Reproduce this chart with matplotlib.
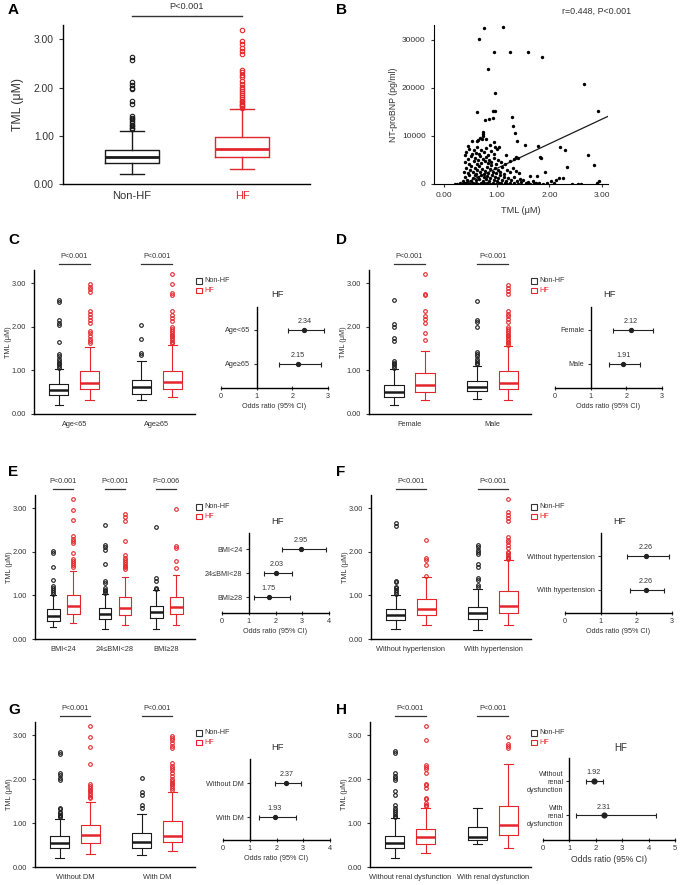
import numpy as np
import matplotlib
matplotlib.use("Agg")
import matplotlib.pyplot as plt
from matplotlib.patches import Rectangle

plt.rcParams['font.family'] = ['Liberation Sans', 'DejaVu Sans']

W, H = 680, 885
BLACK = '#1a1a1a'
RED = '#e3262b'
GREY = '#333333'

# ---------------- data ----------------
# box stats: [whislo, q1, median, q3, whishi]
A_groups = ['Non-HF', 'HF']
A_nonhf = [0.21, 0.43, 0.56, 0.71, 1.10]
A_hf = [0.31, 0.56, 0.73, 0.97, 1.56]
A_nonhf_out = [1.14, 1.17, 1.20, 1.23, 1.26, 1.30, 1.34, 1.38, 1.42, 1.67, 1.72, 1.97, 2.00, 2.05, 2.12, 2.58, 2.64]
A_hf_out = [1.58, 1.61, 1.64, 1.67, 1.70, 1.73, 1.76, 1.80, 1.84, 1.88, 1.92, 1.97, 2.02, 2.08, 2.13,
            2.22, 2.27, 2.32, 2.36, 2.70, 2.76, 2.83, 2.90, 2.96, 3.20]
A_p = 'P<0.001'

# NT-proBNP vs TML scatter
B_tml = [0.75, 1.11, 0.67, 0.95, 1.25, 1.59, 1.85, 0.84, 0.97, 2.65, 2.92, 0.62, 0.92, 0.96, 0.78, 0.86,
         0.93, 1.29, 1.30, 1.35, 1.38, 1.54, 1.79, 1.82, 1.84, 2.20, 2.30, 2.74, 2.84, 2.33, 2.93, 1.92,
         1.37, 1.41, 1.18, 1.05, 0.95, 0.97, 0.73, 0.73, 0.54, 0.46, 0.39, 0.65, 0.74, 0.72, 0.62, 0.68,
         0.80, 0.88,
         0.20, 0.25, 0.30, 0.34, 0.38, 0.42, 0.46, 0.50, 0.55, 0.60, 0.64, 0.70, 0.76, 0.82, 0.88, 0.93,
         0.99, 1.04, 1.09, 1.15, 1.20, 1.26, 1.33, 1.40, 1.46, 1.55, 1.60, 1.64, 1.70, 1.74, 1.80, 1.88,
         1.95, 2.02, 2.08, 2.18, 2.25, 2.43, 2.55, 2.60, 2.90, 1.63, 1.76, 1.68, 2.12,
         0.36, 0.40, 0.44, 0.48, 0.52, 0.55, 0.58, 0.61, 0.64, 0.67, 0.70, 0.73, 0.76, 0.79, 0.82, 0.85,
         0.88, 0.91, 0.94, 0.97, 1.00, 1.03, 1.06, 1.10, 1.14, 1.18, 1.22, 1.27, 1.32, 1.38, 1.44, 1.50,
         0.38, 0.42, 0.45, 0.49, 0.52, 0.55, 0.58, 0.60, 0.63, 0.66, 0.69, 0.72, 0.75, 0.78, 0.81, 0.84,
         0.87, 0.90, 0.93, 0.96, 0.99, 1.02, 1.06, 1.10, 1.14, 1.20, 1.25, 1.30, 1.36, 1.42,
         0.40, 0.45, 0.48, 0.52, 0.56, 0.59, 0.62, 0.65, 0.68, 0.71, 0.74, 0.77, 0.80, 0.83, 0.86, 0.90,
         0.94, 0.98, 1.02, 1.08, 1.15, 1.25, 1.33,
         0.42, 0.48, 0.53, 0.56, 0.60, 0.63, 0.66, 0.70, 0.75, 0.79, 0.84, 0.89, 0.95, 1.00]
B_bnp = [32400, 32600, 30100, 27500, 27400, 27400, 26400, 23900, 19000, 20800, 15200, 14900, 15100, 15300,
         13400, 13600, 13800, 14000, 12000, 10700, 8900, 8200, 8000, 5700, 5400, 7600, 7000, 6100, 4000,
         3500, 700, 2400, 5600, 5400, 6100, 7800, 8700, 7800, 10400, 9900, 8900, 8000, 6100, 9200, 10800,
         9400, 9000, 9500, 9300, 8200,
         100, 80, 150, 60, 200, 120, 300, 90, 250, 150, 80, 200, 120, 260, 90, 180, 60, 220, 130, 300,
         80, 150, 250, 100, 400, 150, 500, 80, 300, 120, 200, 100, 250, 550, 150, 1200, 1250, 80, 60,
         100, 200, 1600, 1700, 600, 800,
         700, 1500, 900, 1800, 600, 1300, 1900, 800, 1500, 1100, 1800, 700, 1400, 1000, 1700, 600, 1300,
         1900, 900, 1500, 700, 1200, 1800, 900, 1500, 600, 1200, 800, 1500, 700, 1100, 900,
         2600, 3400, 2200, 3000, 3800, 2500, 3300, 2100, 2900, 3700, 2400, 3200, 2000, 2800, 3600, 2300,
         3100, 3900, 2600, 3400, 2200, 3000, 2500, 3500, 2100, 2900, 2400, 3300, 2700, 2200,
         4500, 5300, 4200, 5800, 4700, 5500, 4100, 5000, 5900, 4400, 5200, 4800, 5600, 4300, 5100, 4600,
         5400, 4200, 5000, 4500, 4100, 4700, 5200,
         6700, 7300, 6300, 7000, 6500, 7600, 6200, 7100, 6600, 7400, 6100, 6900, 6300, 7200]
B_fit = [5140, -1900]  # slope, intercept of the regression line
B_text = 'r=0.448, P<0.001'

C_groups = ['Age<65', 'Age\u226565']
C_nonhf = [[0.21, 0.43, 0.55, 0.68, 1.03], [0.32, 0.46, 0.61, 0.78, 1.22]]
C_hf = [[0.32, 0.57, 0.72, 0.98, 1.53], [0.38, 0.57, 0.74, 0.98, 1.57]]
C_nonhf_out = [[1.06, 1.10, 1.14, 1.18, 1.22, 1.27, 1.32, 1.37, 1.65, 2.03, 2.09, 2.15, 2.56, 2.61],
               [1.36, 1.39, 1.72, 2.03]]
C_hf_out = [[1.62, 1.67, 1.72, 1.78, 1.85, 1.90, 2.09, 2.16, 2.22, 2.30, 2.36, 2.80, 2.86, 2.92, 2.97],
            [1.62, 1.66, 1.70, 1.74, 1.78, 1.82, 1.86, 1.90, 1.95, 2.00, 2.12, 2.20, 2.28, 2.35, 2.72,
             2.78, 2.97, 3.20]]
C_p = ['P<0.001', 'P<0.001']
C_or = [2.34, 2.15]
C_lo = [1.88, 1.62]
C_hi = [2.88, 2.79]

D_groups = ['Female', 'Male']
D_nonhf = [[0.21, 0.40, 0.51, 0.67, 1.03], [0.35, 0.52, 0.62, 0.76, 1.09]]
D_hf = [[0.32, 0.51, 0.67, 0.95, 1.45], [0.32, 0.58, 0.72, 0.99, 1.55]]
D_nonhf_out = [[1.06, 1.10, 1.14, 1.18, 1.22, 1.68, 1.75, 2.00, 2.06, 2.62],
               [1.14, 1.18, 1.22, 1.27, 1.32, 1.37, 1.42, 2.00, 2.10, 2.15, 2.58]]
D_hf_out = [[1.70, 1.85, 2.09, 2.18, 2.25, 2.35, 2.72, 2.76, 3.20],
            [1.58, 1.62, 1.66, 1.70, 1.74, 1.78, 1.82, 1.86, 1.90, 1.95, 2.00, 2.10, 2.18, 2.25, 2.30,
             2.35, 2.75, 2.82, 2.88, 2.95]]
D_p = ['P<0.001', 'P<0.001']
D_or = [2.12, 1.91]
D_lo = [1.62, 1.52]
D_hi = [2.75, 2.37]

E_groups = ['BMI<24', '24\u2264BMI<28', 'BMI\u226528']
E_nonhf = [[0.28, 0.42, 0.52, 0.68, 1.00], [0.23, 0.45, 0.57, 0.72, 1.02], [0.22, 0.48, 0.62, 0.75, 1.12]]
E_hf = [[0.37, 0.58, 0.75, 1.00, 1.56], [0.31, 0.55, 0.71, 0.96, 1.42], [0.32, 0.58, 0.73, 0.96, 1.47]]
E_nonhf_out = [[1.04, 1.08, 1.12, 1.17, 1.22, 1.36, 1.64, 1.97, 2.01],
               [1.05, 1.09, 1.13, 1.18, 1.28, 1.34, 1.71, 2.05, 2.10, 2.15, 2.62],
               [1.14, 1.18, 1.34, 1.40, 2.57]]
E_hf_out = [[1.66, 1.70, 1.74, 1.78, 1.84, 1.97, 2.20, 2.25, 2.30, 2.35, 2.72, 2.96, 3.20],
            [1.60, 1.64, 1.68, 1.72, 1.76, 1.80, 1.86, 1.93, 2.25, 2.70, 2.79, 2.87],
            [1.62, 1.78, 2.08, 2.12, 2.97]]
E_p = ['P<0.001', 'P<0.001', 'P=0.006']
E_or = [2.95, 2.03, 1.75]
E_lo = [2.25, 1.58, 1.20]
E_hi = [3.88, 2.60, 2.55]

F_groups = ['Without hypertension', 'With hypertension']
F_nonhf = [[0.23, 0.43, 0.54, 0.68, 1.00], [0.20, 0.45, 0.60, 0.74, 1.15]]
F_hf = [[0.32, 0.54, 0.69, 0.91, 1.43], [0.31, 0.60, 0.75, 1.10, 1.81]]
F_nonhf_out = [[1.04, 1.08, 1.12, 1.16, 1.20, 1.30, 1.34, 2.60, 2.65],
               [1.20, 1.23, 1.36, 1.40, 1.65, 1.72, 1.95, 2.00, 2.05, 2.10, 2.15]]
F_hf_out = [[1.45, 1.70, 1.80, 1.86, 2.28],
            [1.83, 1.86, 1.89, 1.92, 1.96, 2.00, 2.08, 2.15, 2.22, 2.28, 2.34, 2.70, 2.78, 2.85, 2.92, 3.20]]
F_p = ['P<0.001', 'P<0.001']
F_or = [2.26, 2.26]
F_lo = [1.73, 1.82]
F_hi = [2.92, 2.78]

G_groups = ['Without DM', 'With DM']
G_nonhf = [[0.20, 0.43, 0.55, 0.71, 1.10], [0.28, 0.43, 0.58, 0.77, 1.21]]
G_hf = [[0.29, 0.55, 0.73, 0.95, 1.47], [0.36, 0.58, 0.70, 1.05, 1.71]]
G_nonhf_out = [[1.13, 1.16, 1.19, 1.22, 1.26, 1.31, 1.35, 1.98, 2.03, 2.09, 2.15, 2.58, 2.62],
               [1.35, 1.40, 1.64, 1.70, 2.02]]
G_hf_out = [[1.56, 1.60, 1.64, 1.68, 1.72, 1.76, 1.80, 1.84, 1.88, 2.34, 2.73, 2.97, 3.20],
            [1.76, 1.80, 1.84, 1.88, 1.92, 1.96, 2.00, 2.08, 2.14, 2.20, 2.26, 2.31, 2.36, 2.70, 2.76,
             2.82, 2.88, 2.94, 2.98]]
G_p = ['P<0.001', 'P<0.001']
G_or = [2.37, 1.93]
G_lo = [1.94, 1.35]
G_hi = [2.90, 2.73]

H_groups = ['Without renal dysfunction', 'With renal dysfunction']
H_rows = ['Without\nrenal\ndysfunction', 'With\nrenal\ndysfunction']
H_nonhf = [[0.21, 0.43, 0.55, 0.71, 1.11], [0.52, 0.62, 0.68, 0.92, 1.35]]
H_hf = [[0.31, 0.53, 0.68, 0.87, 1.35], [0.43, 0.72, 0.95, 1.38, 2.35]]
H_nonhf_out = [[1.13, 1.17, 1.21, 1.25, 1.30, 1.35, 1.40, 1.65, 1.72, 1.97, 2.02, 2.08, 2.14, 2.59, 2.63], []]
H_hf_out = [[1.38, 1.42, 1.46, 1.54, 1.58, 1.80, 1.86, 1.90, 2.15, 2.22, 2.28, 2.32, 2.88, 3.20],
            [2.70, 2.75, 2.80, 2.97]]
H_p = ['P<0.001', 'P<0.001']
H_or = [1.92, 2.31]
H_lo = [1.62, 1.25]
H_hi = [2.26, 4.28]

# ---------------- helpers ----------------
fig = plt.figure(figsize=(W / 100, H / 100), dpi=100)


def px_axes(x0, y0, x1, y1):
    return fig.add_axes([x0 / W, 1 - y1 / H, (x1 - x0) / W, (y1 - y0) / H])


def ftext(x, y, s, **kw):
    kw.setdefault('va', 'center')
    fig.text(x / W, 1 - y / H, s, **kw)


def to_stats(vals, outs):
    return dict(whislo=vals[0], q1=vals[1], med=vals[2], q3=vals[3], whishi=vals[4], fliers=np.array(outs))


def draw_boxes(ax, stats, pos, width, color, lw, mlw, ms):
    ax.bxp(stats, positions=pos, widths=width, capwidths=width * 0.45, manage_ticks=False,
           boxprops=dict(color=color, linewidth=lw),
           whiskerprops=dict(color=color, linewidth=lw),
           capprops=dict(color=color, linewidth=lw),
           medianprops=dict(color=color, linewidth=mlw),
           flierprops=dict(marker='o', markerfacecolor='none', markeredgecolor=color,
                           markersize=ms, markeredgewidth=0.8))


def tml_axis(ax, fs, pad):
    ax.set_ylim(0, 3.3)
    ax.set_yticks([0, 1, 2, 3], ['%.2f' % v for v in [0, 1, 2, 3]])
    for s in ['top', 'right']:
        ax.spines[s].set_visible(False)
    for s in ['left', 'bottom']:
        ax.spines[s].set_linewidth(1.0)
    ax.tick_params(axis='y', length=2.5, width=0.8, labelsize=fs, colors=GREY)
    ax.tick_params(axis='x', length=0, pad=pad, labelsize=fs, colors=GREY)


def box_panel(rect, groups, nonhf, hf, nonhf_out, hf_out, pvals, legend_xy):
    ax = px_axes(*rect)
    n = len(groups)
    if n == 2:
        centers, off, bw = [0.25, 0.763], 0.096, 0.118
    else:
        centers, off, bw = [0.177, 0.5, 0.82], 0.0625, 0.08
    draw_boxes(ax, [to_stats(v, o) for v, o in zip(nonhf, nonhf_out)],
               [c - off for c in centers], bw, BLACK, 0.8, 1.8, 2.6)
    draw_boxes(ax, [to_stats(v, o) for v, o in zip(hf, hf_out)],
               [c + off for c in centers], bw, RED, 0.8, 1.8, 2.6)
    ax.set_xlim(0, 1)
    tml_axis(ax, 5.3, 5)
    ax.set_xticks(centers, groups)
    ax.set_ylabel('TML (\u03bcM)', fontsize=5.2, color=GREY)
    ax.yaxis.set_label_coords(-22 / (rect[2] - rect[0]), 0.5)
    for c, p in zip(centers, pvals):
        ax.plot([c - off, c + off], [3.43, 3.43], color=GREY, lw=0.9, clip_on=False)
        ax.text(c, 3.61, p, ha='center', va='center', fontsize=5.2, color=GREY)
    lx, ly = legend_xy
    for k, (lab, col) in enumerate([('Non-HF', GREY), ('HF', RED)]):
        yy = ly + k * 9.5
        fig.patches.append(Rectangle(((lx - 2.8) / W, 1 - (yy + 2.8) / H), 5.6 / W, 5.6 / H,
                                     transform=fig.transFigure, fill=False, edgecolor=col, lw=0.8))
        ftext(lx + 5, yy, lab, color=col, fontsize=5.2, ha='left')
    return ax


def forest_panel(rect, labels, orv, lo, hi, xmax, rows, title_xy, big=False):
    ax = px_axes(*rect)
    ax.set_xlim(0, xmax)
    ax.set_ylim(0, 1)
    for s in ['top', 'right']:
        ax.spines[s].set_visible(False)
    ax.spines['left'].set_position(('data', 1))
    ax.spines['left'].set_linewidth(1.0)
    ax.spines['bottom'].set_linewidth(1.0)
    ax.errorbar(orv, rows, xerr=[np.subtract(orv, lo), np.subtract(hi, orv)], fmt='o', color='#222222',
                ms=3.4 if big else 2.8, capsize=1.8, elinewidth=0.8, capthick=0.8)
    for v, r in zip(orv, rows):
        ax.annotate('%.2f' % v, (v, r), xytext=(0, 3.5), textcoords='offset points',
                    ha='center', va='bottom', fontsize=5.2, color=GREY)
    ax.set_yticks(rows, labels)
    ax.set_xticks(range(xmax + 1))
    ax.tick_params(axis='y', length=2.5, width=0.8, labelsize=5.2, colors=GREY, pad=2)
    ax.tick_params(axis='x', direction='inout', length=3.5, width=0.8, labelsize=5.5 if big else 5.2,
                   colors=GREY, pad=1.5)
    ax.set_xlabel('Odds ratio (95% CI)', fontsize=6.2 if big else 5.2, labelpad=2.5, color=GREY)
    ftext(title_xy[0], title_xy[1], 'HF', fontsize=7 if big else 6.8, ha='center', color=GREY)
    return ax


# ---------------- A ----------------
axA = px_axes(63, 25, 310, 184)
draw_boxes(axA, [to_stats(A_nonhf, A_nonhf_out)], [0.279], 0.22, BLACK, 1.0, 2.0, 3.2)
draw_boxes(axA, [to_stats(A_hf, A_hf_out)], [0.725], 0.22, RED, 1.0, 2.0, 3.2)
axA.set_xlim(0, 1)
tml_axis(axA, 7.4, 5)
axA.tick_params(axis='y', length=3)
axA.set_xticks([0.279, 0.725], A_groups, fontsize=8)
axA.get_xticklabels()[1].set_color(RED)
axA.set_ylabel('TML (\u03bcM)', fontsize=8.8, color=GREY)
axA.yaxis.set_label_coords(-39 / 247, 0.5)
axA.plot([0.279, 0.725], [3.49, 3.49], color=GREY, lw=1.0, clip_on=False)
axA.text(0.502, 3.675, A_p, ha='center', va='center', fontsize=6.6, color=GREY)

# ---------------- B ----------------
axB = px_axes(434, 25, 608, 184)
axB.scatter(B_tml, B_bnp, s=6, color='black', linewidths=0, zorder=3)
fx = np.array([-B_fit[1] / B_fit[0], 3.11])
axB.plot(fx, B_fit[0] * fx + B_fit[1], color=BLACK, lw=0.9)
axB.set_xlim(-0.19, 3.11)
axB.set_ylim(0, 33100)
axB.set_xticks([0, 1, 2, 3], ['%.2f' % v for v in [0, 1, 2, 3]])
axB.set_yticks([0, 10000, 20000, 30000])
for s in ['top', 'right']:
    axB.spines[s].set_visible(False)
axB.tick_params(length=2.5, width=0.8, labelsize=6, colors=GREY)
axB.set_xlabel('TML (\u03bcM)', fontsize=6.6, labelpad=5, color=GREY)
axB.set_ylabel('NT-proBNP (pg/ml)', fontsize=6.3, labelpad=3, color=GREY)
ftext(597, 11, B_text, fontsize=6.4, ha='center', color=GREY)

# ---------------- C - H ----------------
box_panel((34, 270, 195, 414), C_groups, C_nonhf, C_hf, C_nonhf_out, C_hf_out, C_p, (199, 281))
forest_panel((221, 307, 328, 388), C_groups, C_or, C_lo, C_hi, 3, [0.72, 0.30], (277, 295))

box_panel((369, 270, 531, 414), D_groups, D_nonhf, D_hf, D_nonhf_out, D_hf_out, D_p, (534, 281))
forest_panel((555, 307, 662, 388), D_groups, D_or, D_lo, D_hi, 3, [0.72, 0.30], (609, 295))

box_panel((35, 495, 195, 639), E_groups, E_nonhf, E_hf, E_nonhf_out, E_hf_out, E_p, (199, 507))
forest_panel((222, 533, 329, 613), E_groups, E_or, E_lo, E_hi, 4, [0.80, 0.50, 0.20], (278, 522))

box_panel((371, 495, 531, 639), F_groups, F_nonhf, F_hf, F_nonhf_out, F_hf_out, F_p, (534, 507))
forest_panel((565, 533, 672, 613), F_groups, F_or, F_lo, F_hi, 3, [0.71, 0.29], (620, 521))

box_panel((35, 722, 195, 867), G_groups, G_nonhf, G_hf, G_nonhf_out, G_hf_out, G_p, (199, 733))
forest_panel((223, 759, 330, 840), G_groups, G_or, G_lo, G_hi, 4, [0.70, 0.28], (278, 748))

box_panel((370, 722, 531, 867), H_groups, H_nonhf, H_hf, H_nonhf_out, H_hf_out, H_p, (534, 733))
forest_panel((543, 758, 675, 840), H_rows, H_or, H_lo, H_hi, 5, [0.72, 0.30], (621, 748), big=True)

# panel letters
for lab, x, y in [('A', 8, 10), ('B', 336, 10), ('C', 8, 240), ('D', 336, 240),
                  ('E', 8, 472), ('F', 336, 472), ('G', 8, 710), ('H', 336, 710)]:
    ftext(x, y, lab, fontsize=11, fontweight='bold', ha='left', color='black')

fig.savefig('out.png', dpi=100)
